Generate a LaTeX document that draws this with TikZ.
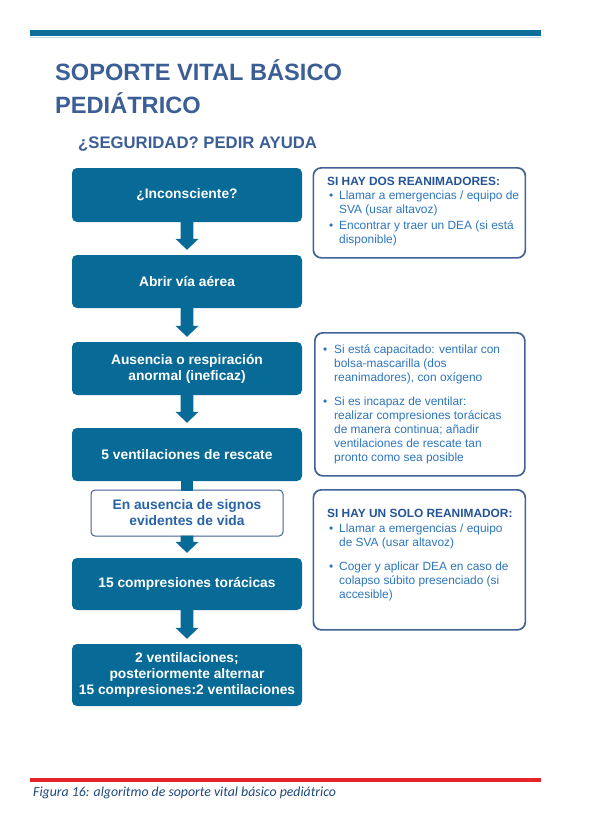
\documentclass[tikz,border=0pt]{standalone}
\usepackage{fontspec}
\setmainfont{Liberation Sans}
\newfontfamily\capfont{Carlito}
\usetikzlibrary{calc}
\definecolor{boxblue}{RGB}{8,106,150}
\definecolor{linecol}{RGB}{13,110,153}
\definecolor{titlecol}{RGB}{59,94,150}
\definecolor{framecol}{RGB}{66,98,150}
\definecolor{headcol}{RGB}{35,85,150}
\definecolor{wtxtcol}{RGB}{40,100,168}
\definecolor{txtcol}{RGB}{45,118,188}
\definecolor{redline}{RGB}{230,35,40}
\definecolor{capcol}{RGB}{31,73,125}
\definecolor{shadowline}{RGB}{190,215,230}
\newcommand\bul[2]{\par\hangindent=#1\hangafter=1\noindent\makebox[#1][l]{\hspace{2pt}\textbullet}#2}
\newcommand\barrow[2]{\fill[boxblue] let \p1=(#1.south), \p2=(#2.north) in
  (\x1-6.3pt,\y1+1pt) -- (\x1-6.3pt,\y2+16pt) -- (\x1-11.5pt,\y2+16pt) -- (\x1,\y2+5pt)
  -- (\x1+11.5pt,\y2+16pt) -- (\x1+6.3pt,\y2+16pt) -- (\x1+6.3pt,\y1+1pt) -- cycle;}
\newcommand\bshaft[2]{\fill[boxblue] let \p1=(#1.south), \p2=(#2.north) in
  (\x1-6.3pt,\y1+1pt) rectangle (\x1+6.3pt,\y2-1pt);}
\tikzset{
  lbox/.style={fill=boxblue, rounded corners=5pt, minimum width=230pt, inner sep=0pt,
    text=white, font=\bfseries\fontsize{13.8}{16}\selectfont, align=center},
  wbox/.style={draw=framecol, line width=1pt, fill=white, rounded corners=4pt, minimum width=192pt,
    minimum height=46pt, inner sep=0pt, text=wtxtcol, font=\bfseries\fontsize{13.8}{16}\selectfont, align=center},
  rbox/.style={draw=framecol, line width=1.7pt, rounded corners=8pt, inner sep=0pt},
  rtext/.style={anchor=base west, inner sep=0pt, text=txtcol, font=\fontsize{11.9}{14}\selectfont},
}
\begin{document}
\begin{tikzpicture}[x=1pt,y=-1pt]
\useasboundingbox (0,0) rectangle (611,816);
\fill[white] (0,0) rectangle (611,816);
% header
\draw[line width=1.2pt, draw=shadowline] (30,37.6) -- (541,37.6);
\fill[linecol] (30,30.5) rectangle (541,36.5);
\node[anchor=base west, inner sep=0pt, text=titlecol, font=\bfseries\fontsize{23.6}{29}\selectfont] (t1) at (55,80) {SOPORTE VITAL BÁSICO};
\node[anchor=base west, inner sep=0pt, text=titlecol, font=\bfseries\fontsize{23.6}{29}\selectfont] (t2) at (55,113) {PEDIÁTRICO};
\node[anchor=base west, inner sep=0pt, text=titlecol, font=\bfseries\fontsize{16.7}{20}\selectfont] (t3) at (78,148) {¿SEGURIDAD? PEDIR AYUDA};
% left column
\node[lbox, minimum height=54pt] (b1) at (187,195) {¿Inconsciente?};
\node[lbox, minimum height=53pt] (b2) at (187,281.5) {Abrir vía aérea};
\node[lbox, minimum height=53pt] (b3) at (187,368.5) {Ausencia o respiración\\anormal (ineficaz)};
\node[lbox, minimum height=53pt] (b4) at (187,454.5) {5 ventilaciones de rescate};
\node[wbox] (b5) at (187,513) {En ausencia de signos\\evidentes de vida};
\node[lbox, minimum height=52pt] (b6) at (187,584) {15 compresiones torácicas};
\node[lbox, minimum height=62pt] (b7) at (187,675) {2 ventilaciones;\\posteriormente alternar\\15 compresiones:2 ventilaciones};
\barrow{b1}{b2}
\barrow{b2}{b3}
\barrow{b3}{b4}
\bshaft{b4}{b5}
\barrow{b5}{b6}
\barrow{b6}{b7}
% right column boxes
\node[rbox, minimum width=212pt, minimum height=90pt, anchor=north west] (r1) at (312.5,167) {};
\node[rbox, minimum width=210pt, minimum height=143pt, anchor=north west] (r2) at (314,332) {};
\node[rbox, minimum width=212pt, minimum height=140pt, anchor=north west] (r3) at (312.5,489) {};
\node[rtext] (r1t) at (327,185) {\parbox[t]{200pt}{\raggedright
  \noindent{\bfseries\color{headcol}SI HAY DOS REANIMADORES:}
  \bul{12pt}{Llamar a emergencias / equipo de\newline SVA (usar altavoz)}\par\vspace{2pt}
  \bul{12pt}{Encontrar y traer un DEA (si está\newline disponible)}}};
\node[rtext] (r2t) at (321,353) {\parbox[t]{200pt}{\raggedright
  \bul{13pt}{Si está capacitado: ventilar con\newline bolsa-mascarilla (dos\newline reanimadores), con oxígeno}\par\vspace{10pt}
  \bul{13pt}{Si es incapaz de ventilar:\newline realizar compresiones torácicas\newline de manera continua; añadir\newline ventilaciones de rescate tan\newline pronto como sea posible}}};
\node[rtext] (r3t) at (327,517) {\parbox[t]{200pt}{\raggedright
  \noindent{\bfseries\color{headcol}SI HAY UN SOLO REANIMADOR:}\par\vspace{1.5pt}
  \bul{12pt}{Llamar a emergencias / equipo\newline de SVA (usar altavoz)}\par\vspace{10pt}
  \bul{12pt}{Coger y aplicar DEA en caso de\newline colapso súbito presenciado (si\newline accesible)}}};
% footer
\fill[redline] (30,777.5) rectangle (541,782);
\node[anchor=base west, inner sep=0pt, text=capcol, font=\capfont\itshape\fontsize{13.8}{16}\selectfont] (cap) at (33,796) {Figura 16: algoritmo de soporte vital básico pediátrico};
\end{tikzpicture}
\end{document}
